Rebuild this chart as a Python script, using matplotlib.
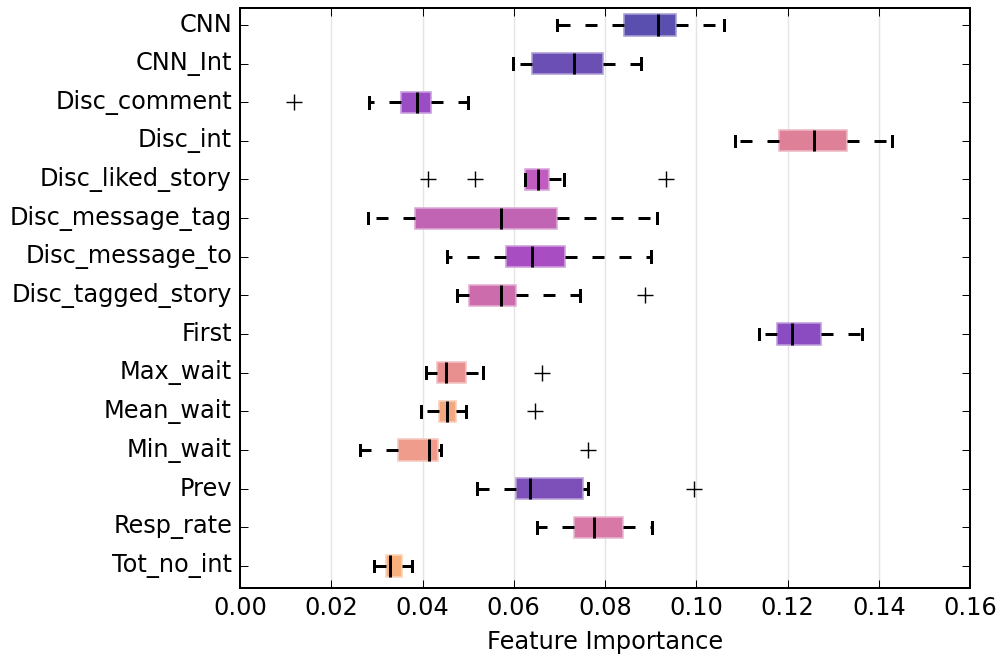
import matplotlib
matplotlib.use("Agg")
from matplotlib import pyplot as plt
import matplotlib.colors as mcolors

plt.style.use('classic')

# feature names, top to bottom
features = ['CNN', 'CNN_Int', 'Disc_comment', 'Disc_int', 'Disc_liked_story',
            'Disc_message_tag', 'Disc_message_to', 'Disc_tagged_story', 'First',
            'Max_wait', 'Mean_wait', 'Min_wait', 'Prev', 'Resp_rate', 'Tot_no_int']

# box statistics
whis_lo = [0.0694, 0.0599, 0.0283, 0.1086, 0.0625, 0.0280, 0.0453, 0.0475, 0.1138,
           0.0407, 0.0396, 0.0263, 0.0519, 0.0650, 0.0294]
q1 = [0.0842, 0.0641, 0.0352, 0.1182, 0.0624, 0.0384, 0.0582, 0.0503, 0.1178,
      0.0432, 0.0437, 0.0347, 0.0604, 0.0731, 0.0319]
med = [0.0917, 0.0731, 0.0389, 0.1259, 0.0653, 0.0571, 0.0639, 0.0571, 0.1209,
       0.0451, 0.0454, 0.0414, 0.0636, 0.0776, 0.0329]
q3 = [0.0956, 0.0796, 0.0418, 0.1330, 0.0677, 0.0695, 0.0713, 0.0604, 0.1273,
      0.0495, 0.0474, 0.0435, 0.0752, 0.0840, 0.0356]
whis_hi = [0.1061, 0.0878, 0.0499, 0.1429, 0.0710, 0.0914, 0.0901, 0.0745, 0.1364,
           0.0532, 0.0495, 0.0440, 0.0763, 0.0904, 0.0376]
fliers = [[], [], [0.0118], [], [0.0413, 0.0515, 0.0934], [], [], [0.0888], [],
          [0.0661], [0.0647], [0.0762], [0.0994], [], []]

box_colors = ['#5a4eae', '#6b4fb4', '#9b4dc4', '#de8098', '#c05cc0', '#c264b4',
              '#a84ec2', '#cc6cac', '#8a4cc0', '#e89090', '#f4a880', '#ef9c8c',
              '#7c50b8', '#d878a6', '#f8b07c']

stats = []
for i, name in enumerate(features):
    stats.append(dict(label=name, whislo=whis_lo[i], q1=q1[i], med=med[i],
                      q3=q3[i], whishi=whis_hi[i], fliers=fliers[i]))

fig = plt.figure(figsize=(1000 / 144, 657 / 144), dpi=144, facecolor='white')
ax = fig.add_axes([0.24, 0.105, 0.73, 0.883])
ax.set_facecolor('white')

positions = list(range(1, len(features) + 1))
bp = ax.bxp(stats, positions=positions, vert=False, widths=0.55, patch_artist=True,
            boxprops=dict(linewidth=0.8),
            medianprops=dict(color='black', linewidth=1.5),
            whiskerprops=dict(color='black', linewidth=1.5, linestyle=(0, (6, 7.5))),
            capprops=dict(color='black', linewidth=1.5),
            flierprops=dict(marker='+', markeredgecolor='black', markersize=8,
                            markeredgewidth=0.7, linestyle='none'))

for patch, c in zip(bp['boxes'], box_colors):
    rgb = mcolors.to_rgb(c)
    light = tuple(0.55 * v + 0.45 for v in rgb)
    patch.set_facecolor(c)
    patch.set_edgecolor(light)

ax.set_xlim(0, 0.16)
ax.set_xticks([0.00, 0.02, 0.04, 0.06, 0.08, 0.10, 0.12, 0.14, 0.16])
ax.set_xticklabels(['%.2f' % t for t in ax.get_xticks()])
ax.set_ylim(15.57, 0.56)
ax.set_yticks(positions)
ax.set_yticklabels(features)

ax.xaxis.grid(True, color='#e4e4e4', linestyle='-', linewidth=0.7)
ax.yaxis.grid(False)
ax.set_axisbelow(True)

ax.tick_params(axis='both', which='major', labelsize=12, direction='in', length=4)
ax.set_xlabel('Feature Importance', fontsize=12)

plt.savefig('out.png', dpi=144, facecolor='white')
